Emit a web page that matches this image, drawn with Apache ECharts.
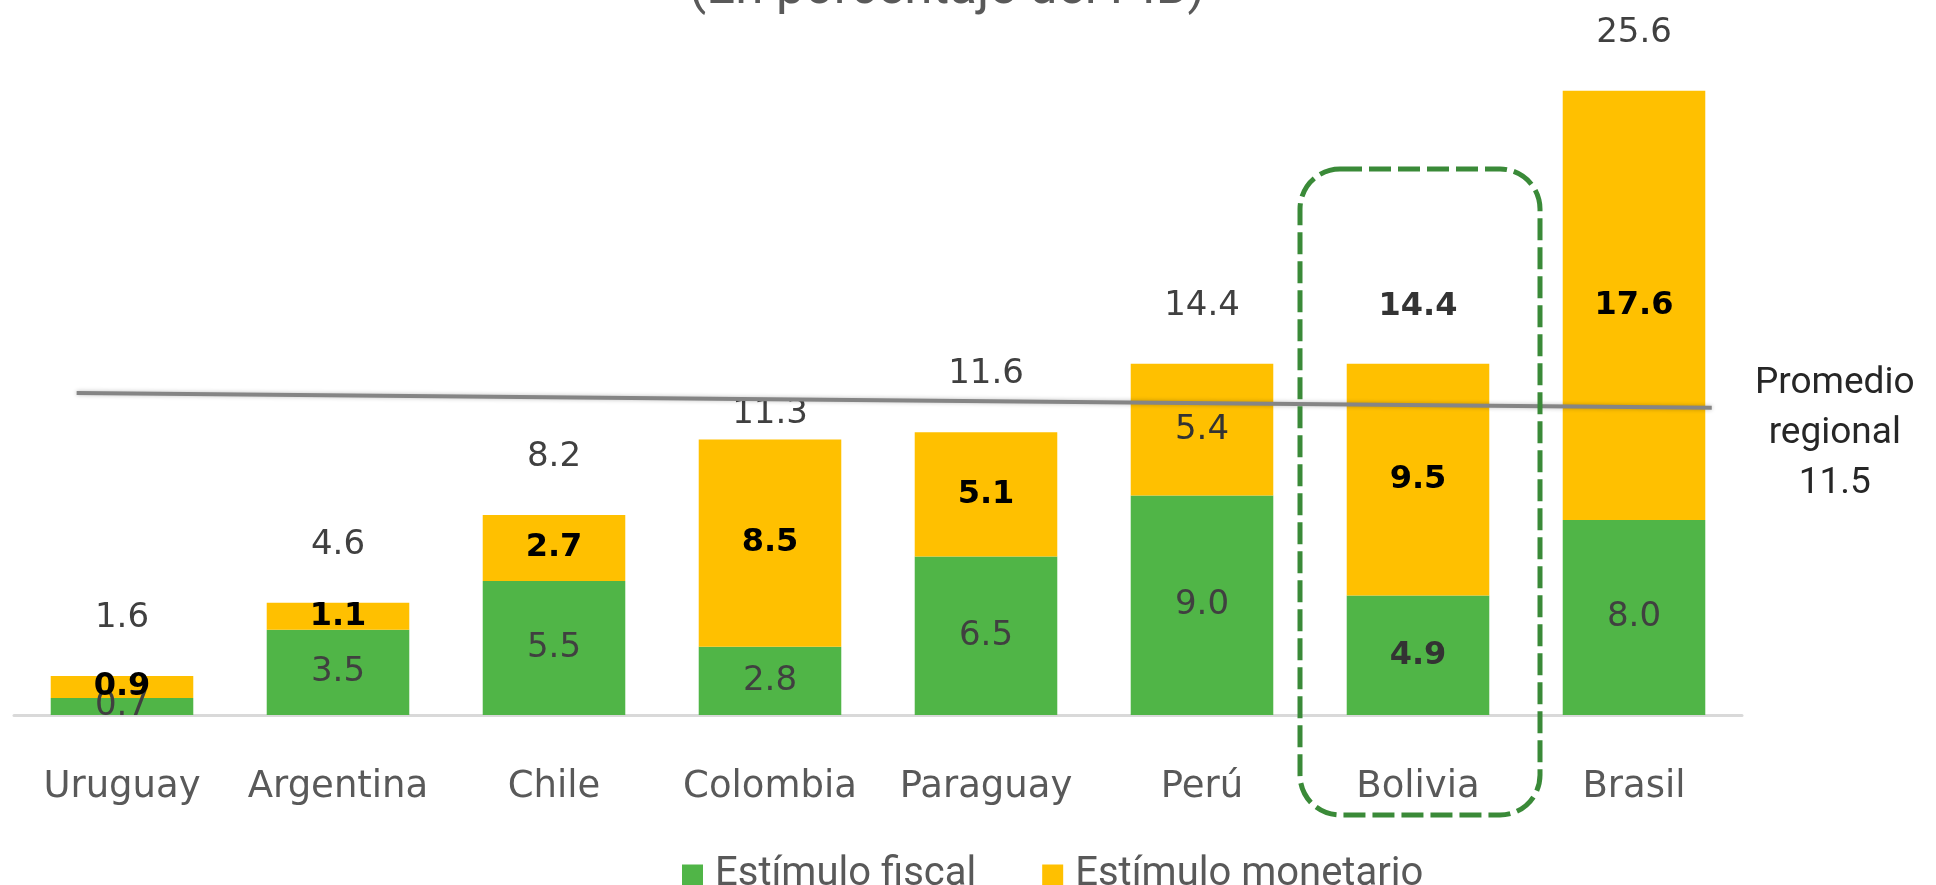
<!DOCTYPE html>
<html>
<head>
<meta charset="utf-8">
<style>
  html, body { margin: 0; padding: 0; background: #fff; }
  #chart { width: 1936px; height: 885px; }
</style>
<script src="https://cdn.jsdelivr.net/npm/echarts@6/dist/echarts.min.js"></script>
</head>
<body>
<div id="chart"></div>
<script>
const countries = ["Uruguay", "Argentina", "Chile", "Colombia", "Paraguay", "Perú", "Bolivia", "Brasil"];
const fiscal = [0.7, 3.5, 5.5, 2.8, 6.5, 9.0, 4.9, 8.0];
const monetario = [0.9, 1.1, 2.7, 8.5, 5.1, 5.4, 9.5, 17.6];
const totals = [1.6, 4.6, 8.2, 11.3, 11.6, 14.4, 14.4, 25.6];
// regional average line as drawn (slightly tilted); x in category index units
const avgLine = [[-0.21, 13.2], [7.36, 12.6]];
const avgValue = 11.5;
const highlight = "Bolivia";

const GREEN = "#50b547";
const YELLOW = "#ffc000";
const numFont = "DejaVu Sans";

const chart = echarts.init(document.getElementById("chart"));

const boldLbl = { fontWeight: "bold", fontSize: 32 };

const fiscalData = fiscal.map((v, i) => ({
  value: v,
  label: countries[i] === highlight ? { ...boldLbl, color: "#333" } : {},
}));
const monetarioData = monetario.map((v, i) => ({
  value: v,
  label: countries[i] === "Perú" ? { fontWeight: "normal", fontSize: 34, color: "#333" } : {},
}));
const totalData = totals.map((v, i) => {
  const lbl = {};
  if (countries[i] === highlight) Object.assign(lbl, boldLbl, { color: "#333" });
  if (countries[i] === "Colombia") lbl.distance = 8; // sits under the average line
  return { value: v, label: lbl };
});

const option = {
  animation: false,
  grid: { left: 14, right: 194, top: 81, bottom: 170 },
  legend: {
    data: ["Estímulo fiscal", "Estímulo monetario"],
    left: 677,
    top: 850,
    icon: "rect",
    itemWidth: 21,
    itemHeight: 21,
    itemGap: 66,
    selectedMode: false,
    textStyle: { fontFamily: "Roboto", fontSize: 40, color: "#595959", padding: [0, 0, 0, 7] },
  },
  xAxis: [
    {
      type: "category",
      data: countries,
      axisLine: { lineStyle: { color: "#d9d9d9", width: 3 } },
      axisTick: { show: false },
      axisLabel: { interval: 0, fontFamily: numFont, fontSize: 37, color: "#595959", margin: 54 },
    },
    { type: "value", min: -0.5, max: 7.5, show: false },
  ],
  yAxis: { type: "value", min: 0, max: 26, show: false },
  series: [
    {
      name: "Estímulo fiscal",
      type: "bar",
      stack: "total",
      barWidth: "66%",
      barGap: "-100%",
      itemStyle: { color: GREEN },
      label: { show: true, position: "inside", fontFamily: numFont, fontSize: 34, color: "#404040", formatter: (p) => p.value.toFixed(1) },
      data: fiscalData,
    },
    {
      name: "Estímulo monetario",
      type: "bar",
      stack: "total",
      barWidth: "66%",
      barGap: "-100%",
      itemStyle: { color: YELLOW },
      label: { show: true, position: "inside", fontFamily: numFont, fontSize: 32, fontWeight: "bold", color: "#000", formatter: (p) => p.value.toFixed(1) },
      data: monetarioData,
    },
    {
      name: "Total",
      type: "bar",
      barWidth: "66%",
      barGap: "-100%",
      silent: true,
      z: 1,
      itemStyle: { color: "transparent" },
      label: { show: true, position: "top", distance: 41, fontFamily: numFont, fontSize: 34, color: "#404040", formatter: (p) => p.value.toFixed(1) },
      data: totalData,
    },
    {
      name: "Promedio regional",
      type: "line",
      xAxisIndex: 1,
      symbol: "none",
      silent: true,
      z: 5,
      lineStyle: { color: "#858585", width: 4, shadowColor: "rgba(0,0,0,0.25)", shadowBlur: 4 },
      data: avgLine,
    },
  ],
};

chart.setOption(option);

// decorations placed from the axes
const cx = chart.convertToPixel({ xAxisIndex: 0 }, highlight);
const y0 = chart.convertToPixel({ yAxisIndex: 0 }, 0);
const endPt = chart.convertToPixel({ xAxisIndex: 1, yAxisIndex: 0 }, avgLine[1]);

chart.setOption({
  graphic: [
    {
      type: "text",
      x: 947,
      y: -10,
      style: { text: "(En porcentaje del PIB)", font: "51px Roboto", fill: "#595959", textAlign: "center", textVerticalAlign: "middle" },
    },
    {
      type: "rect",
      shape: { x: cx - 118, y: y0 - 546, width: 240, height: 646, r: 40 },
      style: { fill: "none", stroke: "#3a8a38", lineWidth: 5, lineDash: [22, 7] },
      z: 10,
    },
    {
      type: "text",
      x: endPt[0] + 123,
      y: endPt[1] - 49,
      style: {
        text: "Promedio\nregional\n" + avgValue.toFixed(1),
        font: "37px Roboto",
        lineHeight: 50,
        fill: "#262626",
        textAlign: "center",
      },
    },
  ],
});

window.addEventListener("resize", () => chart.resize());
</script>
</body>
</html>
